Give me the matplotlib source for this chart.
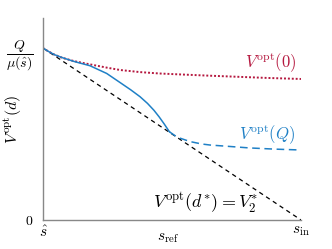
import matplotlib
matplotlib.use("Agg")
import matplotlib.pyplot as plt

plt.rcParams['mathtext.fontset'] = 'cm'
plt.rcParams['font.family'] = 'serif'
plt.rcParams['font.serif'] = ['DejaVu Serif']

# values (x: 0 = s_hat, 1 = s_in; y: 1 = Q/mu(s_hat))
x_red = [0.0, 0.02, 0.045, 0.075, 0.12, 0.182, 0.247, 0.30, 0.376, 0.45, 0.523, 0.647, 0.75, 0.87, 1.0]
y_red = [1.0, 0.981, 0.961, 0.943, 0.924, 0.905, 0.886, 0.872, 0.860, 0.852, 0.847, 0.839, 0.833, 0.826, 0.820]

x_blue = [0.0, 0.02, 0.045, 0.075, 0.12, 0.182, 0.247, 0.298, 0.34, 0.376, 0.405, 0.43, 0.45, 0.47, 0.49]
y_blue = [1.0, 0.981, 0.961, 0.944, 0.922, 0.897, 0.852, 0.800, 0.757, 0.717, 0.678, 0.638, 0.600, 0.558, 0.513]

x_blue_d = [0.49, 0.51, 0.531, 0.57, 0.615, 0.647, 0.72, 0.80, 0.90, 1.0]
y_blue_d = [0.513, 0.492, 0.476, 0.456, 0.442, 0.436, 0.428, 0.419, 0.412, 0.407]

x_black = [0.0, 1.0]
y_black = [1.0, 0.0]

x_ticks = [0.0, 0.484, 1.0]
x_ticklabels = [r'$\hat{s}$', r'$s_{\mathrm{ref}}$', r'$s_{\mathrm{in}}$']
y_ticks = [0.0, 1.0]
y_ticklabels = ['$0$', r'$\dfrac{Q}{\mu(\hat{s})}$']

red = '#b5183f'
blue = '#1f80c6'

fig = plt.figure(figsize=(3.32, 2.49), dpi=100)
ax = fig.add_axes([0.1295, 0.1165, 0.7771, 0.8115])

ax.plot(x_black, y_black, color='black', lw=0.9, ls=(0, (3.5, 3)))
ax.plot(x_red, y_red, color=red, lw=1.4, ls=(0, (1, 1)))
ax.plot(x_blue, y_blue, color=blue, lw=1.1)
ax.plot(x_blue_d, y_blue_d, color=blue, lw=1.1, ls=(0, (5, 3)))

ax.text(0.882, 0.916, r'$V^{\mathrm{opt}}(0)$', color=red, fontsize=12, ha='center', va='center')
ax.text(0.870, 0.494, r'$V^{\mathrm{opt}}(Q)$', color=blue, fontsize=12, ha='center', va='center')
ax.text(0.632, 0.099, r'$V^{\mathrm{opt}}(d^{*})=V_2^{*}$', color='black', fontsize=13, ha='center', va='center')

ax.set_xlim(0, 1)
ax.set_ylim(0, 1.175)
ax.set_xticks(x_ticks)
ax.set_xticklabels(x_ticklabels, fontsize=11)
ax.set_yticks(y_ticks)
ax.set_yticklabels(y_ticklabels, fontsize=10)
ax.tick_params(length=0)
ax.tick_params(axis='y', pad=7)
ax.tick_params(axis='x', pad=3)
ax.xaxis.get_major_ticks()[1].set_pad(8)
ax.set_ylabel(r'$V^{\mathrm{opt}}(d)$', fontsize=11.5)
ax.yaxis.set_label_coords(-0.072, 0.5)

for side in ['top', 'right']:
    ax.spines[side].set_visible(False)
for side in ['left', 'bottom']:
    ax.spines[side].set_color('#888888')
    ax.spines[side].set_linewidth(1.0)

fig.savefig('out.png', dpi=100)
